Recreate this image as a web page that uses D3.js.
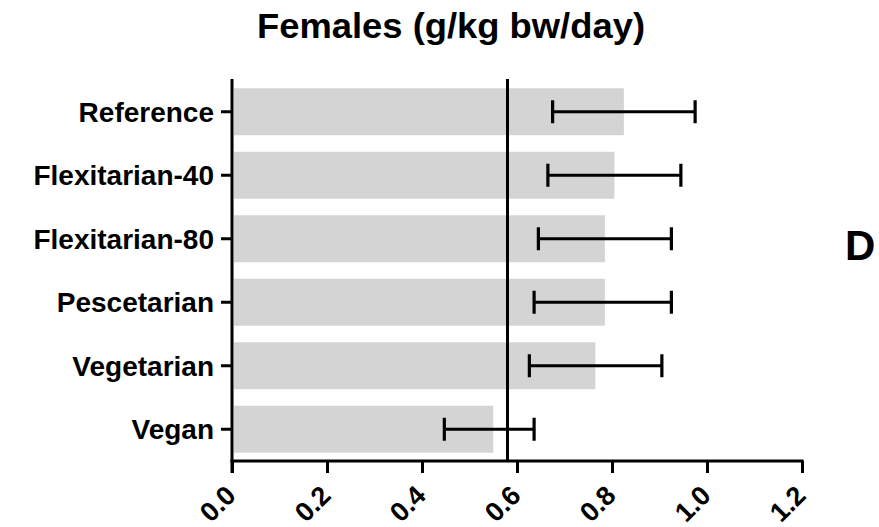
<!DOCTYPE html>
<html>
<head>
<meta charset="utf-8">
<script src="https://cdn.jsdelivr.net/npm/d3@7"></script>
<style>
  body { margin: 0; background: #fff; }
  text { font-family: "Liberation Sans", Arial, sans-serif; font-weight: bold; fill: #000; }
</style>
</head>
<body>
<div id="chart"></div>
<script>
var diets = ["Reference", "Flexitarian-40", "Flexitarian-80", "Pescetarian", "Vegetarian", "Vegan"];
var means = [0.825, 0.805, 0.785, 0.785, 0.765, 0.55];
var lowers = [0.675, 0.665, 0.645, 0.636, 0.626, 0.447];
var uppers = [0.975, 0.945, 0.925, 0.925, 0.905, 0.636];
var xTicks = [0, 0.2, 0.4, 0.6, 0.8, 1.0, 1.2];
var refValue = 0.58;
var title = "Females (g/kg bw/day)";
var panel = "D";

var width = 879, height = 527;
var plotLeft = 232, plotRight = 802, plotTop = 80, plotBottom = 461;

var svg = d3.select("#chart").append("svg")
    .attr("width", width)
    .attr("height", height);

var x = d3.scaleLinear().domain([0, 1.2]).range([plotLeft, plotRight]);
var y = d3.scaleBand().domain(diets).range([plotTop, plotBottom])
    .paddingInner(0.26).paddingOuter(0.13);

// bars
svg.selectAll(".bar")
    .data(diets)
  .enter().append("rect")
    .attr("class", "bar")
    .attr("x", x(0) + 2)
    .attr("y", function(d) { return y(d); })
    .attr("width", function(d, i) { return x(means[i]) - x(0) - 2; })
    .attr("height", y.bandwidth())
    .attr("fill", "#d4d4d4");

// reference line
svg.append("line")
    .attr("x1", x(refValue)).attr("x2", x(refValue))
    .attr("y1", plotTop - 1).attr("y2", plotBottom)
    .attr("stroke", "#000").attr("stroke-width", 3);

// error bars
var err = svg.selectAll(".err")
    .data(diets)
  .enter().append("g")
    .attr("class", "err")
    .attr("transform", function(d) { return "translate(0," + (y(d) + y.bandwidth() / 2) + ")"; });

err.append("line")
    .attr("x1", function(d, i) { return x(lowers[i]); })
    .attr("x2", function(d, i) { return x(uppers[i]); })
    .attr("stroke", "#000").attr("stroke-width", 3.2);

err.append("line")
    .attr("x1", function(d, i) { return x(lowers[i]); })
    .attr("x2", function(d, i) { return x(lowers[i]); })
    .attr("y1", -11.5).attr("y2", 11.5)
    .attr("stroke", "#000").attr("stroke-width", 3.2);

err.append("line")
    .attr("x1", function(d, i) { return x(uppers[i]); })
    .attr("x2", function(d, i) { return x(uppers[i]); })
    .attr("y1", -11.5).attr("y2", 11.5)
    .attr("stroke", "#000").attr("stroke-width", 3.2);

// y axis
var yAxis = svg.append("g")
    .attr("transform", "translate(" + plotLeft + ",0)")
    .call(d3.axisLeft(y).tickSize(11).tickPadding(7).tickSizeOuter(0));
yAxis.select(".domain").remove();
yAxis.append("line")
    .attr("y1", plotTop - 1).attr("y2", plotBottom + 12)
    .attr("stroke", "#000").attr("stroke-width", 3);
yAxis.selectAll(".tick line").attr("stroke-width", 3);
yAxis.selectAll(".tick text")
    .attr("font-size", 28)
    .attr("font-family", null)
    .attr("dy", "0.36em");

// x axis
var xAxis = svg.append("g")
    .attr("transform", "translate(0," + plotBottom + ")")
    .call(d3.axisBottom(x).tickValues(xTicks).tickFormat(d3.format(".1f")).tickSize(12).tickSizeOuter(0));
xAxis.select(".domain").remove();
xAxis.append("line")
    .attr("x1", plotLeft - 1.5).attr("x2", plotRight + 1.5)
    .attr("stroke", "#000").attr("stroke-width", 3);
xAxis.selectAll(".tick line").attr("stroke-width", 3);
xAxis.selectAll(".tick text")
    .attr("font-size", 27)
    .attr("font-family", null)
    .attr("text-anchor", "end")
    .attr("y", 0).attr("dy", 0)
    .attr("transform", "translate(5,36) rotate(-45)");

// title
svg.append("text")
    .attr("x", 451).attr("y", 38)
    .attr("text-anchor", "middle")
    .attr("font-size", 35)
    .attr("textLength", 388)
    .attr("lengthAdjust", "spacingAndGlyphs")
    .text(title);

// panel letter
svg.append("text")
    .attr("x", 845).attr("y", 260)
    .attr("font-size", 42)
    .text(panel);
</script>
</body>
</html>
